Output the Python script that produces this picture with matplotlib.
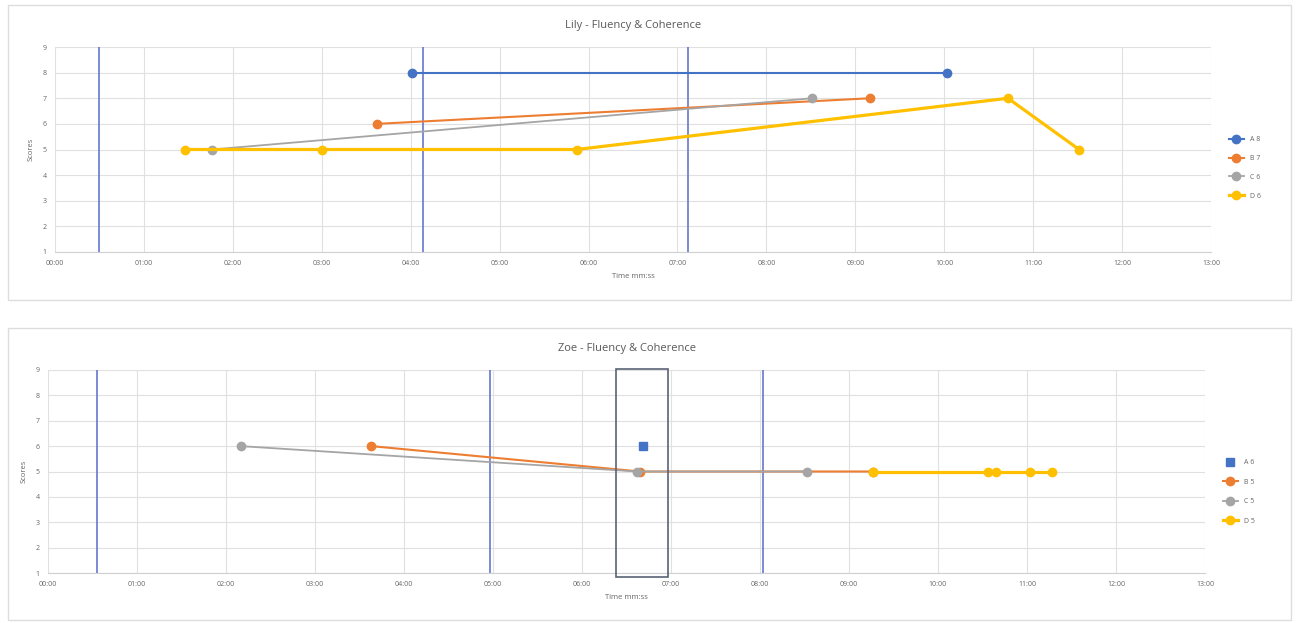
import matplotlib
matplotlib.use('Agg')
import matplotlib.pyplot as plt
from matplotlib.patches import Rectangle
from matplotlib.ticker import FuncFormatter, MultipleLocator

plt.rcParams['font.family'] = ['Open Sans', 'DejaVu Sans']

# Lily - times as mm:ss, scores
lily_a_t = ['04:01', '10:02']
lily_a_s = [8, 8]
lily_b_t = ['03:37', '09:10']
lily_b_s = [6, 7]
lily_c_t = ['01:46', '08:31']
lily_c_s = [5, 7]
lily_d_t = ['01:28', '03:00', '05:52', '10:43', '11:31']
lily_d_s = [5, 5, 5, 7, 5]
lily_vlines = ['00:30', '04:08', '07:07']
lily_labels = ['A 8', 'B 7', 'C 6', 'D 6']

# Zoe
zoe_a_t = ['06:41']
zoe_a_s = [6]
zoe_b_t = ['03:38', '06:39', '09:16']
zoe_b_s = [6, 5, 5]
zoe_c_t = ['02:10', '06:37', '08:32']
zoe_c_s = [6, 5, 5]
zoe_d_t = ['09:16', '10:34', '10:39', '11:02', '11:17']
zoe_d_s = [5, 5, 5, 5, 5]
zoe_vlines = ['00:33', '04:58', '08:02']
zoe_box = ['06:23', '06:58']
zoe_labels = ['A 6', 'B 5', 'C 5', 'D 5']

colors = ['#4472C4', '#ED7D31', '#A5A5A5', '#FFC000']
vline_color = '#6677cc'
grid_color = '#e0e0e0'
text_color = '#666666'


def to_min(s):
    m, sec = s.split(':')
    return int(m) + int(sec) / 60.0


def mmss(x, pos):
    m = int(round(x * 60)) // 60
    s = int(round(x * 60)) % 60
    return f'{m:02d}:{s:02d}'


def style_axes(ax, title):
    ax.set_xlim(0, 13)
    ax.set_ylim(1, 9)
    ax.xaxis.set_major_locator(MultipleLocator(1))
    ax.yaxis.set_major_locator(MultipleLocator(1))
    ax.xaxis.set_major_formatter(FuncFormatter(mmss))
    ax.grid(True, color=grid_color, lw=0.8)
    ax.set_axisbelow(True)
    for sp in ['top', 'right', 'left']:
        ax.spines[sp].set_visible(False)
    ax.spines['bottom'].set_color('#d0d0d0')
    ax.tick_params(length=0, labelsize=5, colors=text_color, pad=6)
    ax.set_xlabel('Time mm:ss', fontsize=5.5, color=text_color, labelpad=4)
    ax.set_ylabel('Scores', fontsize=5.5, color=text_color, labelpad=6)
    ax.set_title(title, fontsize=8, color='#595959', pad=14)


fig = plt.figure(figsize=(12.96, 6.23), dpi=100)

# panel borders
fig.patches.append(Rectangle((8 / 1296, 1 - 300 / 623), 1283 / 1296, 295 / 623,
                             transform=fig.transFigure, fill=False,
                             edgecolor='#dddddd', lw=1))
fig.patches.append(Rectangle((8 / 1296, 1 - 620 / 623), 1283 / 1296, 292 / 623,
                             transform=fig.transFigure, fill=False,
                             edgecolor='#dddddd', lw=1))

# Lily chart
ax1 = fig.add_axes([55 / 1296, 1 - 252 / 623, 1156 / 1296, 205 / 623])
style_axes(ax1, 'Lily - Fluency & Coherence')
for v in lily_vlines:
    ax1.axvline(to_min(v), color=vline_color, lw=1.2, zorder=1)
lily_series = [(lily_a_t, lily_a_s), (lily_b_t, lily_b_s),
               (lily_c_t, lily_c_s), (lily_d_t, lily_d_s)]
widths = [1.5, 1.5, 1.3, 2.3]
for (t, s), c, lab, w in zip(lily_series, colors, lily_labels, widths):
    ax1.plot([to_min(x) for x in t], s, color=c, lw=w, marker='o',
             markersize=6, label=lab, zorder=3)
ax1.legend(loc='center left', bbox_to_anchor=(1.01, 0.41), frameon=False,
           fontsize=5, labelcolor=text_color, handlelength=2.2,
           labelspacing=1.7)

# Zoe chart
ax2 = fig.add_axes([48 / 1296, 1 - 573 / 623, 1157 / 1296, 203 / 623])
style_axes(ax2, 'Zoe - Fluency & Coherence')
for v in zoe_vlines:
    ax2.axvline(to_min(v), color=vline_color, lw=1.2, zorder=1)
x0, x1 = to_min(zoe_box[0]), to_min(zoe_box[1])
ax2.add_patch(Rectangle((x0, 0.84), x1 - x0, 8.2, fill=False,
                        edgecolor='#5a6275', lw=1.2, clip_on=False, zorder=4))
ax2.plot([to_min(x) for x in zoe_a_t], zoe_a_s, color=colors[0], lw=0,
         marker='s', markersize=5.5, label=zoe_labels[0], zorder=3)
zoe_series = [(zoe_b_t, zoe_b_s), (zoe_c_t, zoe_c_s), (zoe_d_t, zoe_d_s)]
for (t, s), c, lab, w in zip(zoe_series, colors[1:], zoe_labels[1:], [1.5, 1.3, 2.3]):
    ax2.plot([to_min(x) for x in t], s, color=c, lw=w, marker='o',
             markersize=6, label=lab, zorder=3)
ax2.legend(loc='center left', bbox_to_anchor=(1.01, 0.40), frameon=False,
           fontsize=5, labelcolor=text_color, handlelength=2.2,
           labelspacing=1.8)

fig.savefig('out.png', dpi=100)
